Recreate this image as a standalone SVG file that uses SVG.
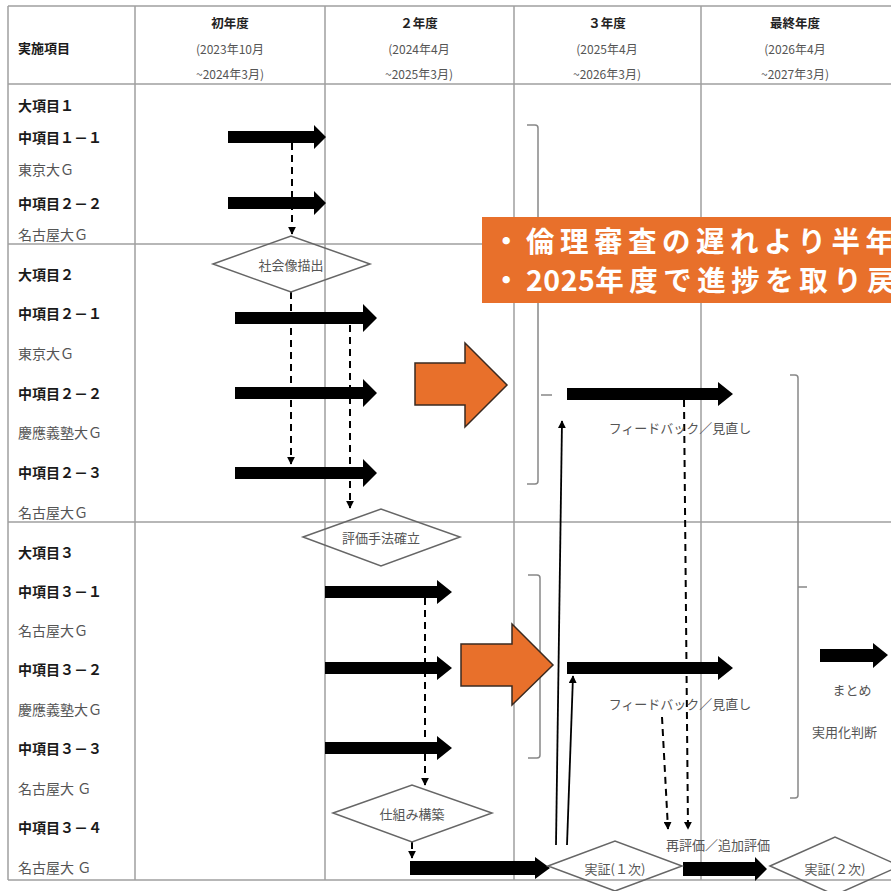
<svg xmlns="http://www.w3.org/2000/svg" width="891" height="891" viewBox="0 0 891 891">
<defs>
<style>
.grid{stroke:#a0a0a0;stroke-width:1.5;fill:none}
.lb{font-family:"Noto Sans CJK JP","Noto Sans",sans-serif;font-size:14px;font-weight:700;fill:#1a1a1a;dominant-baseline:central}
.ln{font-family:"Noto Sans CJK JP","Noto Sans",sans-serif;font-size:14px;fill:#555;dominant-baseline:central}
.hb{font-family:"Noto Sans CJK JP","Noto Sans",sans-serif;font-size:12.5px;font-weight:700;fill:#222;text-anchor:middle;dominant-baseline:central}
.hn{font-family:"Noto Sans CJK JP","Noto Sans",sans-serif;font-size:12px;fill:#555;text-anchor:middle;dominant-baseline:central}
.dt{font-family:"Noto Sans CJK JP","Noto Sans",sans-serif;font-size:13px;fill:#555;text-anchor:middle;dominant-baseline:central}
.blk{fill:#000}
.dia{fill:none;stroke:#666;stroke-width:1.5}
.dash{stroke:#000;stroke-width:2;stroke-dasharray:7 5;fill:none}
.sol{stroke:#000;stroke-width:1.8;fill:none}
.brk{stroke:#888;stroke-width:1.5;fill:none}
.org{fill:#E8702B;stroke:#3a2a20;stroke-width:1.5}
.ct{font-family:"Noto Sans CJK JP","Noto Sans",sans-serif;font-size:28.5px;font-weight:700;fill:#fff;dominant-baseline:central;letter-spacing:5.5px}
.nd{letter-spacing:0.5px}
</style>
<marker id="ah" viewBox="0 0 10 10" refX="9" refY="5" markerWidth="8" markerHeight="8" markerUnits="userSpaceOnUse" orient="auto">
<path d="M0,0 L10,5 L0,10 Z" fill="#000"/>
</marker>
</defs>
<rect width="891" height="891" fill="#fff"/>
<g id="grid">
<path class="grid" d="M8,6 H891 M8,84 H891 M8,244 H891 M8,522 H891 M8,880 H891 M8,6 V880 M135,6 V880 M325,6 V880 M514,6 V880 M701,6 V880"/>
</g>
<g id="header">
<text class="lb" x="18" y="47" style="font-size:13px">実施項目</text>
<text class="hb" x="230" y="22">初年度</text>
<text class="hn" x="230" y="48">(2023年10月</text>
<text class="hn" x="230" y="73">~2024年3月)</text>
<text class="hb" x="419" y="22">２年度</text>
<text class="hn" x="419" y="48">(2024年4月</text>
<text class="hn" x="419" y="73">~2025年3月)</text>
<text class="hb" x="607" y="22">３年度</text>
<text class="hn" x="607" y="48">(2025年4月</text>
<text class="hn" x="607" y="73">~2026年3月)</text>
<text class="hb" x="795" y="22">最終年度</text>
<text class="hn" x="795" y="48">(2026年4月</text>
<text class="hn" x="795" y="73">~2027年3月)</text>
</g>
<g id="labels">
<text class="lb" x="18" y="105">大項目１</text>
<text class="lb" x="18" y="137">中項目１－１</text>
<text class="ln" x="18" y="169">東京大Ｇ</text>
<text class="lb" x="18" y="203">中項目２－２</text>
<text class="ln" x="18" y="234">名古屋大Ｇ</text>
<text class="lb" x="18" y="274">大項目２</text>
<text class="lb" x="18" y="313">中項目２－１</text>
<text class="ln" x="18" y="353">東京大Ｇ</text>
<text class="lb" x="18" y="393">中項目２－２</text>
<text class="ln" x="18" y="432">慶應義塾大Ｇ</text>
<text class="lb" x="18" y="472">中項目２－３</text>
<text class="ln" x="18" y="512">名古屋大Ｇ</text>
<text class="lb" x="18" y="552">大項目３</text>
<text class="lb" x="18" y="591">中項目３－１</text>
<text class="ln" x="18" y="630">名古屋大Ｇ</text>
<text class="lb" x="18" y="669">中項目３－２</text>
<text class="ln" x="18" y="709">慶應義塾大Ｇ</text>
<text class="lb" x="18" y="748">中項目３－３</text>
<text class="ln" x="18" y="788">名古屋大 Ｇ</text>
<text class="lb" x="18" y="827">中項目３－４</text>
<text class="ln" x="18" y="867">名古屋大 Ｇ</text>
</g>
<g id="brackets">
<path class="brk" d="M527,125 H535 Q538,125 538,128 V481 Q538,484 535,484 H527 M541,395 H552"/>
<path class="brk" d="M528,575 H537 Q540,575 540,578 V755 Q540,758 537,758 H528"/>
<path class="brk" d="M790,375 H795 Q798,375 798,378 V795 Q798,798 795,798 H790 M798,587 H807"/>
</g>
<g id="connectors">
<path class="dash" d="M292,143 V234" marker-end="url(#ah)"/>
<path class="dash" d="M291,292 V464" marker-end="url(#ah)"/>
<path class="dash" d="M350,325 V508" marker-end="url(#ah)"/>
<path class="dash" d="M425,598 V785" marker-end="url(#ah)"/>
<path class="dash" d="M412,842 V858" marker-end="url(#ah)"/>
<path class="dash" d="M684,400 L688,829" marker-end="url(#ah)"/>
<path class="dash" d="M662,717 L668,829" marker-end="url(#ah)"/>
<path class="sol" d="M556,845 L562,421" marker-end="url(#ah)"/>
<path class="sol" d="M567,845 L573,676" marker-end="url(#ah)"/>
</g>
<g id="arrows">
<path class="blk" d="M228,131 H314 V125 L326,137 L314,149 V143 H228 Z"/>
<path class="blk" d="M228,197 H314 V191 L326,203 L314,215 V209 H228 Z"/>
<path class="blk" d="M235,312 H363 V304 L377,318 L363,332 V324 H235 Z"/>
<path class="blk" d="M235,387 H363 V379 L377,393 L363,407 V399 H235 Z"/>
<path class="blk" d="M235,467 H363 V459 L377,473 L363,487 V479 H235 Z"/>
<path class="blk" d="M325,586 H437 V580 L452,592 L437,604 V598 H325 Z"/>
<path class="blk" d="M325,662 H437 V656 L452,668 L437,680 V674 H325 Z"/>
<path class="blk" d="M325,742 H437 V736 L452,748 L437,760 V754 H325 Z"/>
<path class="blk" d="M410,861 H535 V857 L550,868 L535,879 V875 H410 Z"/>
<path class="blk" d="M683,862 H755 V857 L767,869 L755,881 V876 H683 Z"/>
<path class="blk" d="M567,388 H718 V382 L733,394 L718,406 V400 H567 Z"/>
<path class="blk" d="M567,662 H718 V656 L733,668 L718,680 V674 H567 Z"/>
<path class="blk" d="M820,649 H873 V643 L888,655 L873,668 V662 H820 Z"/>
</g>
<g id="orange">
<path class="org" d="M415,363 H465 V343 L507,385 L465,427 V405 H415 Z"/>
<path class="org" d="M461,644 H512 V624 L553,665 L512,705 V686 H461 Z"/>
</g>
<g id="d1"><path class="dia" d="M213,264 L291,236 L370,264 L291,292 Z"/><text class="dt" x="291" y="264">社会像描出</text></g>
<g id="d2"><path class="dia" d="M303,537 L381,509 L460,537 L381,566 Z"/><text class="dt" x="381" y="537">評価手法確立</text></g>
<g id="d3"><path class="dia" d="M333,813 L412,785 L492,813 L412,842 Z"/><text class="dt" x="412" y="813">仕組み構築</text></g>
<g id="d4"><path class="dia" d="M548,866 L615,841 L682,866 L615,891 Z"/><text class="dt" x="615" y="868">実証(１次)</text></g>
<g id="d5"><path class="dia" d="M770,866 L835,837 L900,866 L835,895 Z"/><text class="dt" x="835" y="868">実証(２次)</text></g>
<g id="texts">
<text class="dt" x="680" y="427">フィードバック／見直し</text>
<text class="dt" x="680" y="703">フィードバック／見直し</text>
<text class="dt" x="718" y="844">再評価／追加評価</text>
<text class="dt" x="852" y="689">まとめ</text>
<text class="dt" x="812" y="731" style="text-anchor:start">実用化判断</text>
</g>
<g id="callout">
<rect x="482" y="217" width="420" height="86" fill="#E8702B"/>
<text class="ct" x="492" y="239">・倫理審査の遅れより半年</text>
<text class="ct" x="492" y="278">・<tspan class="nd">2025</tspan>年度で進捗を取り戻</text>
</g>
</svg>
